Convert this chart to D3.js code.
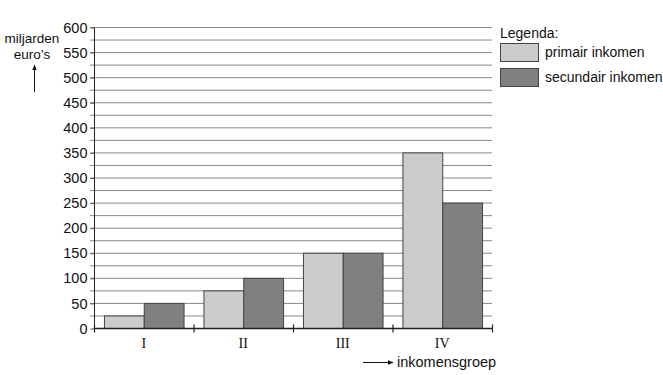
<!DOCTYPE html>
<html><head><meta charset="utf-8">
<script src="https://cdn.jsdelivr.net/npm/d3@7"></script>
<style>body{margin:0;background:#fff}svg{display:block}</style>
</head><body>
<svg id="c" width="663" height="375"></svg>
<script>
const categories = ["I", "II", "III", "IV"];
const primair = [25, 75, 150, 350];
const secundair = [50, 100, 150, 250];
const seriesNames = ["primair inkomen", "secundair inkomen"];
const yTicks = [0, 50, 100, 150, 200, 250, 300, 350, 400, 450, 500, 550, 600];
const gridValues = d3.range(25, 601, 25);

(function () {
const svg = d3.select("#c");
const colors = ["#cccccc", "#808080"];
const mL = 94, mR = 492, mT = 27, mB = 328;
const font = "Liberation Sans, Arial, sans-serif";

const y = d3.scaleLinear().domain([0, 600]).range([mB, mT]);
const x = d3.scaleBand().domain(categories).range([mL, mR]).paddingInner(0).paddingOuter(0);
const xs = d3.scaleBand().domain([0, 1]).range([0, x.bandwidth()]).paddingOuter(0.25).paddingInner(0);

// gridlines
svg.append("g").selectAll("line").data(gridValues).join("line")
  .attr("x1", mL - 4).attr("x2", mR)
  .attr("y1", d => y(d) + 0.5).attr("y2", d => y(d) + 0.5)
  .attr("stroke", "#8a8a8a").attr("stroke-width", 1);

// y axis
const yAxis = d3.axisLeft(y).tickValues(yTicks).tickSize(4).tickPadding(3);
const gy = svg.append("g").attr("transform", `translate(${mL + 0.5},0.5)`).call(yAxis);
gy.select(".domain").attr("stroke", "#222").attr("d", `M0,${mT}V${mB}`);
gy.selectAll(".tick line").attr("stroke", "#555");
gy.selectAll("text").attr("font-family", font).attr("font-size", 14.5).attr("fill", "#111");

// bars
const data = categories.map((c, i) => ({c, v: [primair[i], secundair[i]]}));
const grp = svg.append("g").selectAll("g").data(data).join("g")
  .attr("transform", d => `translate(${x(d.c)},0)`);
grp.selectAll("rect").data(d => d.v.map((v, k) => ({v, k}))).join("rect")
  .attr("x", d => xs(d.k) + 0.5)
  .attr("y", d => y(d.v) + 0.5)
  .attr("width", xs.bandwidth())
  .attr("height", d => y(0) - y(d.v))
  .attr("fill", d => colors[d.k])
  .attr("stroke", "#444").attr("stroke-width", 1);

// x axis
const gx = svg.append("g").attr("transform", `translate(0,${mB + 0.5})`);
gx.append("line").attr("x1", mL).attr("x2", mR + 1).attr("y1", 0).attr("y2", 0)
  .attr("stroke", "#222").attr("stroke-width", 1.5);
const bounds = categories.map(c => x(c)).concat([mR]);
gx.selectAll(".tk").data(bounds).join("line").attr("class", "tk")
  .attr("x1", d => d + 0.5).attr("x2", d => d + 0.5).attr("y1", -4).attr("y2", 4)
  .attr("stroke", "#222").attr("stroke-width", 1.2);
gx.selectAll("text").data(categories).join("text")
  .attr("x", d => x(d) + x.bandwidth() / 2).attr("y", 19)
  .attr("text-anchor", "middle")
  .attr("font-family", "Liberation Serif, Times New Roman, serif").attr("font-size", 14)
  .attr("fill", "#111").text(d => d);

// y label
const lab = svg.append("g").attr("font-family", font).attr("font-size", 13.5).attr("fill", "#111");
lab.append("text").attr("x", 32).attr("y", 43).attr("text-anchor", "middle").text("miljarden");
lab.append("text").attr("x", 32).attr("y", 59).attr("text-anchor", "middle").text("euro’s");
svg.append("defs").append("marker").attr("id", "ah").attr("viewBox", "0 0 10 10")
  .attr("refX", 9).attr("refY", 5).attr("markerWidth", 6).attr("markerHeight", 6)
  .attr("orient", "auto").append("path").attr("d", "M0,1L10,5L0,9Z").attr("fill", "#111");
svg.append("line").attr("x1", 34.5).attr("x2", 34.5).attr("y1", 92).attr("y2", 65)
  .attr("stroke", "#111").attr("stroke-width", 1).attr("marker-end", "url(#ah)");

// x label
svg.append("line").attr("x1", 363).attr("x2", 393).attr("y1", 362.5).attr("y2", 362.5)
  .attr("stroke", "#111").attr("stroke-width", 1).attr("marker-end", "url(#ah)");
svg.append("text").attr("x", 397).attr("y", 367).attr("font-family", font).attr("font-size", 14.5)
  .attr("fill", "#111").text("inkomensgroep");

// legend
const lg = svg.append("g").attr("font-family", font).attr("font-size", 14).attr("fill", "#111");
lg.append("text").attr("x", 500).attr("y", 38).text("Legenda:");
seriesNames.forEach((n, i) => {
  lg.append("rect").attr("x", 500.5).attr("y", 43.5 + i * 25).attr("width", 38).attr("height", 18)
    .attr("fill", colors[i]).attr("stroke", "#444");
  lg.append("text").attr("x", 545).attr("y", 57 + i * 25).text(n);
});
})();
</script>
</body></html>
